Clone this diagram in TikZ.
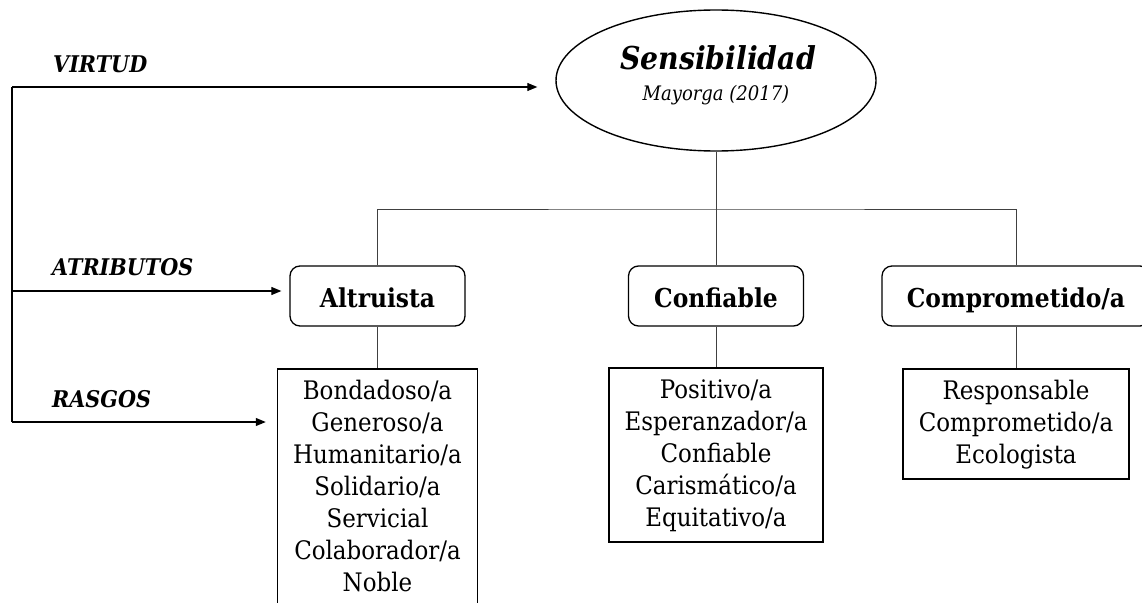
\documentclass[tikz,border=0pt]{standalone}
\usepackage{fontspec}
\setmainfont{DejaVu Serif}[FakeStretch=0.9]
\usetikzlibrary{shapes.geometric,arrows.meta,calc}
\newcommand\lstrut{\rule[-7pt]{0pt}{30pt}}
\begin{document}
\begin{tikzpicture}[x=1pt,y=-1pt,
  lbl/.style={inner sep=0pt,anchor=base west,font=\fontsize{23}{28}\selectfont\bfseries\itshape},
  attr/.style={draw,line width=1.3pt,rounded corners=10pt,minimum height=60pt,text height=25pt,text depth=3pt,inner sep=0pt,font=\fontsize{26}{30}\selectfont\bfseries},
  listbox/.style={draw,line width=1.5pt,anchor=north,align=center,inner xsep=0pt,inner ysep=8pt,font=\fontsize{25.5}{32}\selectfont},
  tree/.style={draw=black!75,line width=1pt},
  arr/.style={line width=1.1pt,-{Triangle[length=10pt,width=8pt]}},
]
\useasboundingbox (0,0) rectangle (1142,602);
\clip (0,0) rectangle (1142,602);

% central ellipse
\node[draw,ellipse,line width=1.4pt,minimum width=320pt,minimum height=141pt,inner sep=0pt] (sens) at (716,80.5) {};
\node[inner sep=0pt,anchor=base,font=\fontsize{31.5}{36}\selectfont\bfseries\itshape] (senst) at (718,70) {Sensibilidad};
\node[inner sep=0pt,anchor=base,font=\fontsize{20}{24}\selectfont\itshape] (may) at (716,100) {Mayorga (2017)};

% attributes
\node[attr,minimum width=175pt] (alt) at (377.5,296) {Altruista};
\node[attr,minimum width=175pt] (conf) at (716,296) {Confiable};
\node[attr,minimum width=268pt] (comp) at (1016,296) {Comprometido/a};

% trait lists
\node[listbox,minimum width=200pt] (altl) at (377.5,368) {\lstrut Bondadoso/a\\ \lstrut Generoso/a\\ \lstrut Humanitario/a\\ \lstrut Solidario/a\\ \lstrut Servicial\\ \lstrut Colaborador/a\\ \lstrut Noble};
\node[listbox,minimum width=214pt] (confl) at (716,367) {\lstrut Positivo/a\\ \lstrut Esperanzador/a\\ \lstrut Confiable\\ \lstrut Carismático/a\\ \lstrut Equitativo/a};
\node[listbox,minimum width=226pt] (compl) at (1016,368) {\lstrut Responsable\\ \lstrut Comprometido/a\\ \lstrut Ecologista};

% tree connectors
\coordinate (hub) at (716,209);
\draw[tree] (sens.south) -- (conf.north);
\draw[tree] (alt.north) |- (hub) -| (comp.north);
\draw[tree] (alt.south) -- (altl.north);
\draw[tree] (conf.south) -- (confl.north);
\draw[tree] (comp.south) -- (compl.north);

% left labels and arrows
\node[lbl] (virtud) at (53,72) {VIRTUD};
\node[lbl] (atrib) at (52,275) {ATRIBUTOS};
\node[lbl] (rasgos) at (52,407) {RASGOS};
\coordinate (c1) at (12,87);
\coordinate (c2) at (12,291);
\coordinate (c3) at (12,422);
\draw[line width=1.1pt] (c1) -- (c3);
\draw[arr,shorten >=18pt] (c1) -- (c1 -| sens.west);
\draw[arr,shorten >=8pt] (c2) -- (c2 -| alt.west);
\draw[arr,shorten >=11pt] (c3) -- (c3 -| altl.west);
\end{tikzpicture}
\end{document}
